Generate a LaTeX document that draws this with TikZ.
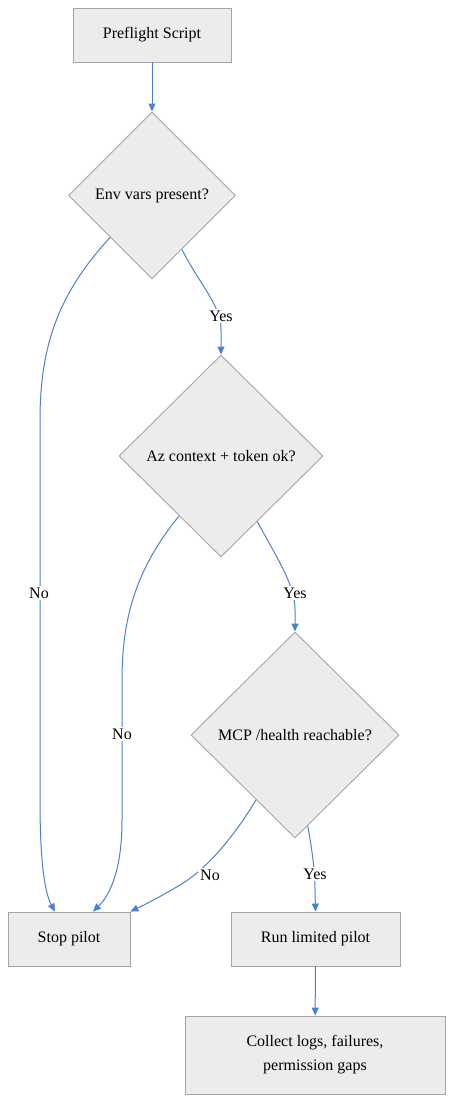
\documentclass[tikz,border=0pt]{standalone}
\usepackage{fontspec}
\setmainfont{Liberation Serif}
\usetikzlibrary{shapes.geometric,arrows.meta,calc}
\definecolor{edgeblue}{RGB}{74,128,214}
\definecolor{boxfill}{RGB}{236,236,236}
\definecolor{boxline}{RGB}{165,165,165}
\begin{document}
\begin{tikzpicture}[x=1pt,y=-1pt,
  every node/.style={font=\fontsize{16}{24}\selectfont},
  proc/.style={draw=boxline,fill=boxfill,line width=0.9pt,rectangle,inner sep=0pt,align=center},
  decide/.style={draw=boxline,fill=boxfill,line width=0.9pt,diamond,inner sep=0pt,aspect=1},
  flow/.style={draw=edgeblue,line width=1pt,-{Triangle[length=8pt,width=7pt]}},
  lbl/.style={fill=white,inner sep=2pt}]
\useasboundingbox (0,0) rectangle (454,1102);
\node[proc,minimum width=158,minimum height=54] (pre) at (152,35) {Preflight Script};
\node[decide,minimum width=167,minimum height=167] (d1) at (152,195.5) {Env vars present?};
\node[decide,minimum width=204,minimum height=202] (d2) at (221,456) {Az context + token ok?};
\node[decide,minimum width=208,minimum height=206] (d3) at (295,735) {MCP /health reachable?};
\node[proc,minimum width=122,minimum height=54] (stop) at (69,939) {Stop pilot};
\node[proc,minimum width=169,minimum height=54] (run) at (315.5,939) {Run limited pilot};
\node[proc,minimum width=260,minimum height=78] (col) at (315,1055) {Collect logs, failures,\\permission gaps};
\coordinate (s1) at ($(stop.north)+(-14,0)$);
\coordinate (s2) at ($(stop.north)+(24,0)$);
\coordinate (s3) at (stop.north east);
\draw[flow] (pre) -- (d1);
\draw[flow] (d1.south west) .. controls (62,290) and (40,340) .. (40,420) -- (40,800) .. controls (40,870) and (46,895) .. (s1);
\draw[flow] (d1.-61) .. controls (200,285) and (221,305) .. (221,330) -- (d2.north);
\draw[flow] (d2.-125.6) .. controls (135,570) and (122,620) .. (122,680) -- (122,820) .. controls (122,870) and (110,895) .. (s2);
\draw[flow] (d2.-61.4) .. controls (278,560) and (295,585) .. (295,610) -- (d3.north);
\draw[flow] (d3.-121) .. controls (232,840) and (205,870) .. (180,885) .. controls (160,897) and (142,906) .. (s3);
\draw[flow] (d3.-82) .. controls (312,850) and (315,870) .. (315,890) -- (run.north);
\draw[flow] (run) -- (col);
\node[lbl] (n1) at (39,593) {No};
\node[lbl] (y1) at (221,316) {Yes};
\node[lbl] (n2) at (122,734) {No};
\node[lbl] (y2) at (295,593) {Yes};
\node[lbl] (n3) at (210,875) {No};
\node[lbl] (y3) at (315,874) {Yes};
\end{tikzpicture}
\end{document}
